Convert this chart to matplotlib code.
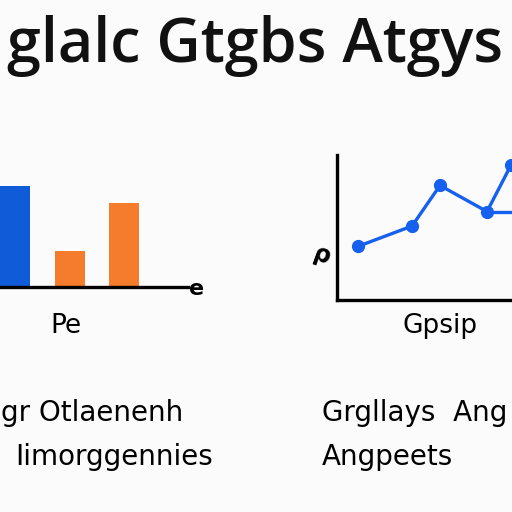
import matplotlib
matplotlib.use("Agg")
import matplotlib.pyplot as plt

# bar panel
bar_pos = [0, 1, 2]
bar_vals = [7.4, 2.6, 6.1]
bar_colors = ["#0f5bd8", "#f47c2c", "#f47c2c"]

# line panel
line_x = [1.05, 3.75, 5.15, 7.5, 8.7]
line_y = [3.7, 5.1, 7.9, 6.1, 9.3]
flat_x = [7.5, 10.5]
flat_y = [6.1, 6.1]

title = "glalc Gtgbs Atgys"
left_notes = ["gr Otlaenenh", "Iimorggennies"]
right_notes = ["Grgllays  Ang", "Angpeets"]

bg = "#fbfbfb"
fig = plt.figure(figsize=(5.12, 5.12), dpi=100, facecolor=bg)

fig.text(255 / 512, 0.91, title, ha="center", va="center", fontsize=44,
         family="Open Sans", fontweight="semibold", color="#111111")

# left: bar chart, baseline at y=287 px
ax1 = fig.add_axes([0, 1 - 287 / 512, 188 / 512, 137 / 512])
ax1.set_facecolor(bg)
ax1.bar(bar_pos, bar_vals, width=0.55, color=bar_colors)
ax1.set_xlim(-0.275, 3.17)
ax1.set_ylim(0, 10)
for s in ["top", "right", "left"]:
    ax1.spines[s].set_visible(False)
ax1.spines["bottom"].set_linewidth(2.4)
ax1.set_xticks([])
ax1.set_yticks([])
fig.text(189 / 512, 1 - 289 / 512, "e", ha="left", va="center", fontsize=16,
         family="DejaVu Sans", fontweight="bold")
fig.text(66 / 512, 1 - 326 / 512, "Pe", ha="center", va="center", fontsize=19,
         family="DejaVu Sans")

# right: line chart
ax2 = fig.add_axes([337 / 512, 1 - 300 / 512, 200 / 512, 145 / 512])
ax2.set_facecolor(bg)
ax2.plot(line_x, line_y, color="#1560ee", lw=2.4, marker="o", ms=8.5,
         clip_on=False)
ax2.plot(flat_x, flat_y, color="#1560ee", lw=2.4)
ax2.set_xlim(0, 10)
ax2.set_ylim(0, 10)
for s in ["top", "right"]:
    ax2.spines[s].set_visible(False)
ax2.spines["left"].set_linewidth(2.4)
ax2.spines["bottom"].set_linewidth(2.4)
ax2.set_xticks([])
ax2.set_yticks([])
fig.text(322 / 512, 1 - 256 / 512, "ρ", ha="center", va="center", fontsize=17,
         family="DejaVu Sans", fontweight="bold", rotation=-20)
fig.text(440 / 512, 1 - 326 / 512, "Gpsip", ha="center", va="center",
         fontsize=19, family="DejaVu Sans")

# bottom notes
for i, t in enumerate(left_notes):
    fig.text((1 + 14 * i) / 512, 1 - (413 + 44 * i) / 512, t, ha="left",
             va="center", fontsize=20, family="DejaVu Sans")
for i, t in enumerate(right_notes):
    fig.text(322 / 512, 1 - (413 + 44 * i) / 512, t, ha="left", va="center",
             fontsize=20, family="DejaVu Sans")

fig.savefig("out.png", dpi=100, facecolor=bg)
